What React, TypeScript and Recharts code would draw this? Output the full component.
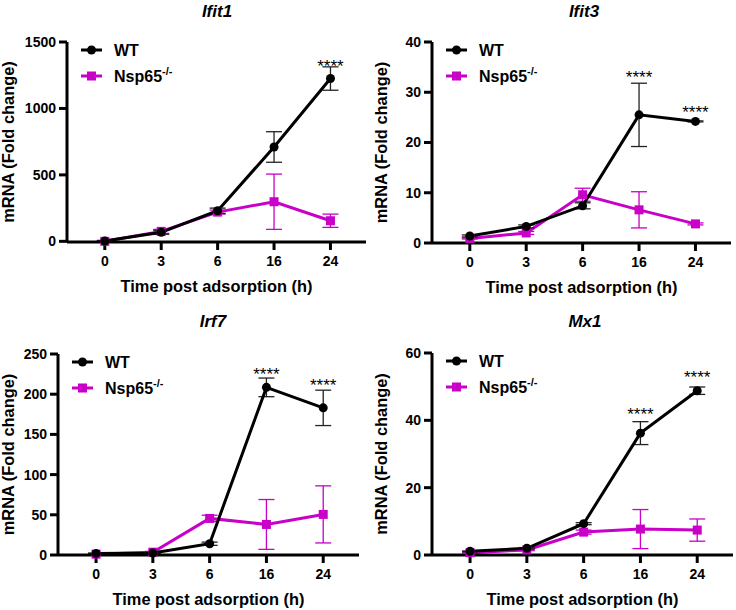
import React from 'react';
import { LineChart, Line, XAxis, YAxis, ErrorBar, LabelList } from 'recharts';

const TIMES = ['0', '3', '6', '16', '24'];
const SERIES = ['WT', 'Nsp65'];

// Ifit1
const IFIT1_WT = [2, 68, 230, 710, 1225];
const IFIT1_WT_ERR = [5, 15, 20, 115, 88];
const IFIT1_KO = [0, 75, 220, 298, 155];
const IFIT1_KO_ERR = [5, 15, 15, 208, 50];
const IFIT1_STARS = [null, null, null, null, 1346];

// Ifit3
const IFIT3_WT = [1.4, 3.3, 7.4, 25.5, 24.2];
const IFIT3_WT_ERR = [0.2, 0.3, 0.6, 6.3, 0.1];
const IFIT3_KO = [0.9, 2.0, 9.6, 6.6, 3.8];
const IFIT3_KO_ERR = [0.1, 0.3, 1.3, 3.6, 0.2];
const IFIT3_STARS = [null, null, null, 33.8, 26.8];

// Irf7
const IRF7_WT = [2, 2.5, 14, 208.5, 183];
const IRF7_WT_ERR = [0.5, 0.5, 2, 11.6, 22];
const IRF7_KO = [1, 3.5, 45.5, 38, 50.5];
const IRF7_KO_ERR = [0.3, 1, 4, 31, 35.5];
const IRF7_STARS = [null, null, null, 230, 215.5];

// Mx1
const MX1_WT = [1.1, 2.0, 9.3, 36.2, 48.8];
const MX1_WT_ERR = [0.1, 0.2, 0.3, 3.4, 1.1];
const MX1_KO = [0.7, 1.5, 6.8, 7.7, 7.4];
const MX1_KO_ERR = [0.1, 0.2, 0.6, 5.8, 3.3];
const MX1_STARS = [null, null, null, 42.8, 53.8];

const FONT = '"Liberation Sans", Arial, sans-serif';
const MAGENTA = '#c800c8';
const YW = 50;
const XH = 55;
const W = 368;
const H = 305;

const buildRows = (wt, wtErr, ko, koErr, stars) =>
  TIMES.map((t, i) => ({
    idx: i,
    wt: wt[i],
    wtErr: wtErr[i],
    ko: ko[i],
    koErr: koErr[i],
    star: stars[i],
  }));

const renderStar = (props) => {
  const { x, y, value } = props;
  if (value == null || y == null || isNaN(y)) return null;
  return (
    <text x={x} y={y + 9.5} textAnchor="middle" fontFamily={FONT} fontSize={17} fill="#000">
      ****
    </text>
  );
};

const squareDot = (props) => {
  const { cx, cy, index } = props;
  if (cy == null) return null;
  return <rect key={`sq-${index}`} x={cx - 4.5} y={cy - 4.5} width={9} height={9} fill={MAGENTA} />;
};

// legend drawn as an overlay so it takes no room from the plot
const LegendBox = ({ left, top }) => (
  <svg
    width={160}
    height={50}
    style={{ position: 'absolute', left, top, overflow: 'visible' }}
  >
    <line x1={2} x2={23} y1={8} y2={8} stroke="#000" strokeWidth={3} />
    <circle cx={12.5} cy={8} r={4.5} fill="#000" />
    <text x={35} y={8} dy="0.35em" fontFamily={FONT} fontWeight="bold" fontSize={16} fill="#000">
      {SERIES[0]}
    </text>
    <line x1={2} x2={23} y1={34} y2={34} stroke={MAGENTA} strokeWidth={3} />
    <rect x={8} y={29.5} width={9} height={9} fill={MAGENTA} />
    <text x={35} y={34} dy="0.35em" fontFamily={FONT} fontWeight="bold" fontSize={16} fill="#000">
      {SERIES[1]}
      <tspan dy={-7} fontSize={11}>-/-</tspan>
    </text>
  </svg>
);

const Panel = ({ title, rows, yMax, yTicks, left, top, box, titlePos, yTitleX }) => {
  const [pl, pt, pr, pb] = box;
  const tickStyle = { fontFamily: FONT, fontWeight: 'bold', fontSize: 14, fill: '#000' };
  return (
    <div style={{ position: 'absolute', left, top, width: W, height: H }}>
      <div
        style={{
          position: 'absolute',
          left: titlePos[0] - 60,
          top: titlePos[1] - 10,
          width: 120,
          lineHeight: '20px',
          textAlign: 'center',
          fontFamily: FONT,
          fontWeight: 'bold',
          fontStyle: 'italic',
          fontSize: 17,
        }}
      >
        {title}
      </div>
      <LineChart
        width={W}
        height={H}
        data={rows}
        margin={{ top: pt, right: W - pr, left: pl - YW, bottom: H - pb - XH }}
        style={{ overflow: 'visible' }}
      >
        <XAxis
          dataKey="idx"
          type="number"
          domain={[-0.67, 4.63]}
          ticks={[0, 1, 2, 3, 4]}
          tickFormatter={(i) => TIMES[i]}
          allowDataOverflow
          height={XH}
          stroke="#000"
          strokeWidth={3}
          tickSize={8}
          tickMargin={6}
          tick={tickStyle}
          label={({ viewBox }) => (
            <text
              x={viewBox.x + viewBox.width / 2}
              y={viewBox.y + 50}
              textAnchor="middle"
              fontFamily={FONT}
              fontWeight="bold"
              fontSize={16.4}
              fill="#000"
            >
              Time post adsorption (h)
            </text>
          )}
        />
        <YAxis
          type="number"
          domain={[0, yMax]}
          ticks={yTicks}
          width={YW}
          stroke="#000"
          strokeWidth={3}
          tickSize={8}
          tickMargin={3}
          tick={tickStyle}
          label={({ viewBox }) => {
            const cy = viewBox.y + viewBox.height / 2;
            return (
              <text
                x={yTitleX}
                y={cy}
                transform={`rotate(-90 ${yTitleX} ${cy})`}
                textAnchor="middle"
                fontFamily={FONT}
                fontWeight="bold"
                fontSize={16.4}
                fill="#000"
              >
                mRNA (Fold change)
              </text>
            );
          }}
        />
        <Line
          dataKey="ko"
          name={SERIES[1]}
          stroke={MAGENTA}
          strokeWidth={3}
          dot={squareDot}
          activeDot={false}
          isAnimationActive={false}
        >
          <ErrorBar dataKey="koErr" direction="y" width={8} strokeWidth={1.3} stroke={MAGENTA} />
        </Line>
        <Line
          dataKey="wt"
          name={SERIES[0]}
          stroke="#000"
          strokeWidth={3}
          dot={{ r: 4.5, fill: '#000', stroke: '#000', strokeWidth: 0 }}
          activeDot={false}
          isAnimationActive={false}
        >
          <ErrorBar dataKey="wtErr" direction="y" width={8} strokeWidth={1.3} stroke="#222" />
        </Line>
        <Line
          dataKey="star"
          stroke="none"
          dot={false}
          activeDot={false}
          legendType="none"
          isAnimationActive={false}
        >
          <LabelList dataKey="star" content={renderStar} />
        </Line>
      </LineChart>
      <LegendBox left={pl + 12} top={pt} />
    </div>
  );
};

export default function App() {
  return (
    <div style={{ position: 'absolute', left: 0, top: 0, width: 736, height: 610, background: '#fff' }}>
      <Panel
        title="Ifit1"
        rows={buildRows(IFIT1_WT, IFIT1_WT_ERR, IFIT1_KO, IFIT1_KO_ERR, IFIT1_STARS)}
        yMax={1500}
        yTicks={[0, 500, 1000, 1500]}
        left={0}
        top={0}
        box={[67, 42, 366, 242]}
        titlePos={[217, 12]}
        yTitleX={14}
      />
      <Panel
        title="Ifit3"
        rows={buildRows(IFIT3_WT, IFIT3_WT_ERR, IFIT3_KO, IFIT3_KO_ERR, IFIT3_STARS)}
        yMax={40}
        yTicks={[0, 10, 20, 30, 40]}
        left={368}
        top={0}
        box={[64, 42, 363, 243]}
        titlePos={[216, 12]}
        yTitleX={19}
      />
      <Panel
        title="Irf7"
        rows={buildRows(IRF7_WT, IRF7_WT_ERR, IRF7_KO, IRF7_KO_ERR, IRF7_STARS)}
        yMax={250}
        yTicks={[0, 50, 100, 150, 200, 250]}
        left={0}
        top={305}
        box={[58, 49, 359, 250]}
        titlePos={[213, 17]}
        yTitleX={14}
      />
      <Panel
        title="Mx1"
        rows={buildRows(MX1_WT, MX1_WT_ERR, MX1_KO, MX1_KO_ERR, MX1_STARS)}
        yMax={60}
        yTicks={[0, 20, 40, 60]}
        left={368}
        top={305}
        box={[64, 48, 365, 250]}
        titlePos={[217, 17]}
        yTitleX={19}
      />
    </div>
  );
}
